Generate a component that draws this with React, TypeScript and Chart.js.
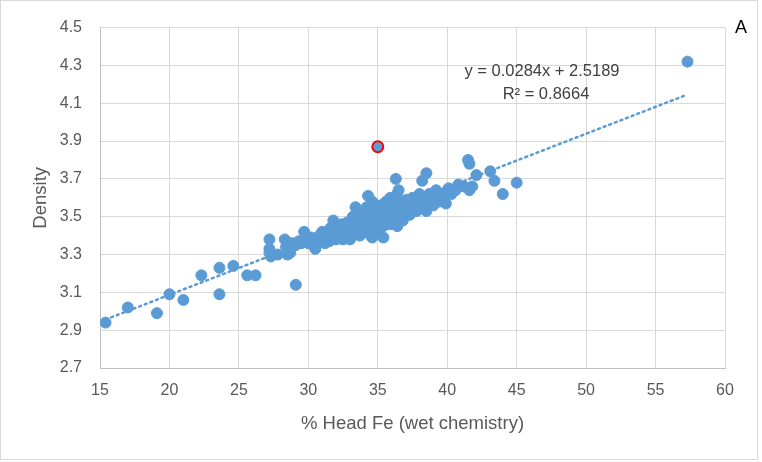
import React, { useEffect, useRef } from "react";
import { Chart, registerables } from "chart.js";

Chart.register(...registerables);

// Head Fe (%) values
const feValues: number[] = [
  15.4, 17.0, 19.1, 20.0, 21.0, 22.3, 23.6, 23.6, 24.6, 25.6, 26.2, 29.1,
  27.2, 27.2, 27.2, 27.3, 27.8, 28.3, 28.4, 28.5, 28.7, 28.8, 29.1, 29.3, 29.5, 29.7, 29.8, 30.0, 30.2, 30.3, 30.5, 30.6,
  30.8, 31.0, 31.0, 31.2, 31.4, 31.5, 31.6, 31.8, 31.9, 32.0, 32.1, 32.3, 32.4, 32.5, 32.6, 32.7, 32.8, 32.9, 33.0, 33.1, 33.2, 33.3, 33.4, 33.5, 33.6, 33.7, 33.8, 33.9, 34.0, 34.0,
  34.1, 34.2, 34.3, 34.3, 34.4, 34.5, 34.5, 34.6, 34.6, 34.7, 34.8, 34.9, 35.0, 35.1, 35.2, 35.3, 35.4, 35.4, 35.5, 35.6, 35.6, 35.7, 35.8, 35.9, 35.9, 36.0, 36.1, 36.2, 36.3, 36.3, 36.4, 36.4, 36.5, 36.5, 36.6, 36.7, 36.8, 36.9, 37.0,
  37.1, 37.2, 37.3, 37.4, 37.5, 37.6, 37.7, 37.8, 37.9, 38.0, 38.1, 38.2, 38.2, 38.3, 38.4, 38.5, 38.5, 38.6, 38.7, 38.8, 39.0, 39.1, 39.2, 39.4, 39.5, 39.7, 39.9, 39.9, 40.1, 40.3, 40.6, 40.8, 41.2, 41.5, 41.6, 41.6, 41.8, 42.1, 43.1, 43.4, 44.0, 45.0, 57.3,
];

// Density values (same order as feValues)
const densityValues: number[] = [
  2.94, 3.02, 2.99, 3.09, 3.06, 3.19, 3.23, 3.09, 3.24, 3.19, 3.19, 3.14,
  3.38, 3.33, 3.31, 3.29, 3.30, 3.38, 3.34, 3.30, 3.31, 3.36, 3.35, 3.37, 3.36, 3.42, 3.38, 3.36, 3.39, 3.37, 3.33, 3.35,
  3.40, 3.42, 3.38, 3.36, 3.41, 3.37, 3.44, 3.48, 3.40, 3.38, 3.43, 3.41, 3.46, 3.38, 3.44, 3.40, 3.47, 3.43, 3.38, 3.45, 3.50, 3.42, 3.55, 3.47, 3.44, 3.40, 3.49, 3.52, 3.46, 3.42,
  3.50, 3.55, 3.61, 3.44, 3.48, 3.40, 3.52, 3.58, 3.39, 3.46, 3.50, 3.54, 3.43, 3.48, 3.56, 3.51, 3.39, 3.45, 3.53, 3.58, 3.48, 3.50, 3.55, 3.60, 3.46, 3.52, 3.57, 3.49, 3.70, 3.54, 3.62, 3.45, 3.58, 3.64, 3.51, 3.55, 3.48, 3.57, 3.53,
  3.59, 3.55, 3.51, 3.57, 3.60, 3.56, 3.54, 3.53, 3.58, 3.62, 3.56, 3.69, 3.59, 3.54, 3.60, 3.73, 3.53, 3.57, 3.62, 3.59, 3.56, 3.61, 3.64, 3.58, 3.62, 3.60, 3.63, 3.57, 3.65, 3.62, 3.64, 3.67, 3.66, 3.80, 3.78, 3.64, 3.66, 3.72, 3.74, 3.69, 3.62, 3.68, 4.32,
];

// Highlighted outlier
const outlierFe: number[] = [35.0];
const outlierDensity: number[] = [3.87];

// Trendline
const trendSlope = 0.0284;
const trendIntercept = 2.5189;
const trendXRange: number[] = [15.4, 57.3];
const equationLines: string[] = ["y = 0.0284x + 2.5189", "R² = 0.8664"];

const xTicks: number[] = [15, 20, 25, 30, 35, 40, 45, 50, 55, 60];
const yTicks: number[] = [2.7, 2.9, 3.1, 3.3, 3.5, 3.7, 3.9, 4.1, 4.3, 4.5];

const xTitle = "% Head Fe (wet chemistry)";
const yTitle = "Density";
const panelLabel = "A";

const FONT = "'Liberation Sans', Arial, sans-serif";
const TEXT = "#595959";
const BLUE = "#5B9BD5";

export default function App() {
  const ref = useRef<HTMLCanvasElement | null>(null);

  useEffect(() => {
    document.body.style.margin = "0";
    const canvas = ref.current;
    if (!canvas) return;

    const points = feValues.map((x, i) => ({ x, y: densityValues[i] }));
    const outliers = outlierFe.map((x, i) => ({ x, y: outlierDensity[i] }));
    const trend = trendXRange.map((x) => ({ x, y: trendSlope * x + trendIntercept }));

    const decor = {
      id: "decor",
      afterDraw(chart: any) {
        const ctx = chart.ctx;
        const area = chart.chartArea;
        ctx.save();
        // outer border
        ctx.strokeStyle = "#D9D9D9";
        ctx.lineWidth = 1;
        ctx.strokeRect(0.5, 0.5, 757, 459);
        // axis titles
        ctx.fillStyle = TEXT;
        ctx.font = `18.5px ${FONT}`;
        ctx.textAlign = "center";
        ctx.textBaseline = "middle";
        ctx.fillText(xTitle, (area.left + area.right) / 2, 424);
        ctx.save();
        ctx.translate(41, (area.top + area.bottom) / 2);
        ctx.rotate(-Math.PI / 2);
        ctx.fillText(yTitle, 0, 0);
        ctx.restore();
        // equation
        ctx.font = `16.5px ${FONT}`;
        ctx.fillStyle = "#404040";
        ctx.fillText(equationLines[0], 542, 71);
        ctx.fillText(equationLines[1], 546, 94);
        // panel label
        ctx.fillStyle = "#000000";
        ctx.font = `18px ${FONT}`;
        ctx.fillText(panelLabel, 741, 28);
        ctx.restore();
      },
    };

    const chart = new Chart(canvas, {
      type: "scatter",
      data: {
        datasets: [
          {
            type: "line",
            label: "trend",
            data: trend,
            borderColor: BLUE,
            borderWidth: 2.5,
            borderDash: [2, 4],
            borderCapStyle: "round",
            pointRadius: 0,
            fill: false,
            order: 0,
          } as any,
          {
            label: "outlier",
            data: outliers,
            backgroundColor: BLUE,
            borderColor: "#FF0000",
            borderWidth: 2,
            pointRadius: 5.5,
            order: 1,
          },
          {
            label: "data",
            data: points,
            backgroundColor: BLUE,
            borderColor: BLUE,
            borderWidth: 1,
            pointRadius: 5.5,
            order: 2,
          },
        ],
      },
      options: {
        responsive: false,
        animation: false,
        devicePixelRatio: 1,
        layout: { padding: { left: 0, right: 37, top: 24, bottom: 0 } },
        plugins: {
          legend: { display: false },
          tooltip: { enabled: false },
          title: { display: false },
        },
        scales: {
          x: {
            type: "linear",
            min: 15,
            max: 60,
            afterBuildTicks: (s: any) => {
              s.ticks = xTicks.map((v) => ({ value: v }));
            },
            afterFit: (s: any) => {
              s.height = 94;
            },
            ticks: {
              color: TEXT,
              font: { family: FONT, size: 16 },
              padding: 13,
              maxRotation: 0,
              autoSkip: false,
            },
            grid: { color: "#D9D9D9", lineWidth: 1, drawTicks: false },
            border: { color: "#BFBFBF", width: 1 },
          },
          y: {
            type: "linear",
            min: 2.7,
            max: 4.5,
            afterBuildTicks: (s: any) => {
              s.ticks = yTicks.map((v) => ({ value: v }));
            },
            afterFit: (s: any) => {
              s.width = 100;
            },
            ticks: {
              color: TEXT,
              font: { family: FONT, size: 16 },
              padding: 18,
              callback: (v: any) => Number(v).toFixed(1),
              autoSkip: false,
            },
            grid: { color: "#D9D9D9", lineWidth: 1, drawTicks: false },
            border: { color: "#BFBFBF", width: 1 },
          },
        },
      },
      plugins: [decor],
    });

    return () => chart.destroy();
  }, []);

  return (
    <div style={{ width: 762, height: 462 }}>
      <canvas ref={ref} width={762} height={462} style={{ width: 762, height: 462, display: "block" }} />
    </div>
  );
}
